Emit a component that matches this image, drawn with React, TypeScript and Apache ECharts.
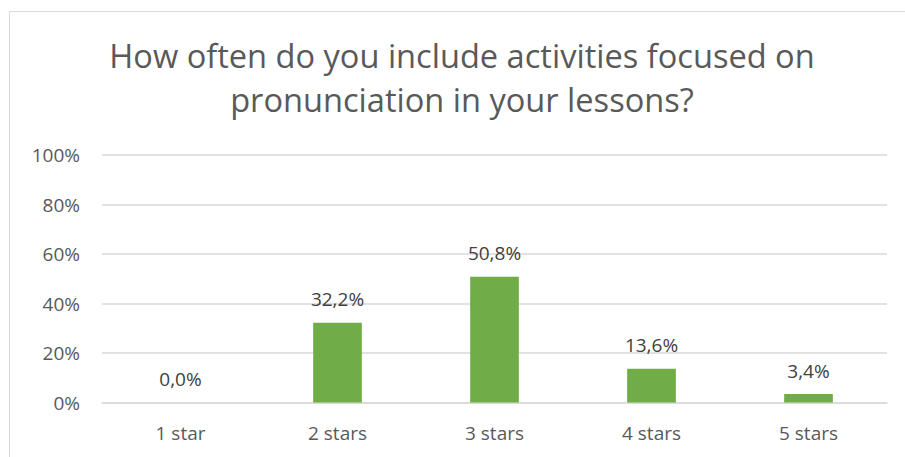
import React, { useEffect, useRef } from "react";
import * as echarts from "echarts";

const categories = ["1 star", "2 stars", "3 stars", "4 stars", "5 stars"];
const values = [0.0, 32.2, 50.8, 13.6, 3.4];
const yTicks = [0, 20, 40, 60, 80, 100];
const titleLines = ["How often do you include activities focused on", "pronunciation in your lessons?"];

const FONT = "'Open Sans', sans-serif";
const GREY = "#595959";

export default function App() {
  const ref = useRef<HTMLDivElement>(null);
  useEffect(() => {
    document.body.style.margin = "0";
    const chart = echarts.init(ref.current!, null, { renderer: "svg" });
    chart.setOption({
      animation: false,
      backgroundColor: "#ffffff",
      graphic: [
        {
          type: "rect",
          shape: { x: 9.5, y: 11.5, width: 920, height: 460 },
          style: { fill: "none", stroke: "#d9d9d9", lineWidth: 1 },
          silent: true,
        },
        {
          type: "text",
          x: 462,
          y: 33,
          style: {
            text: titleLines.join("\n"),
            fontFamily: FONT,
            fontSize: 32.6,
            lineHeight: 44,
            fill: GREY,
            align: "center",
          },
        },
      ],
      grid: { left: 102, right: 18, top: 155, bottom: 54.5, containLabel: false },
      xAxis: {
        type: "category",
        data: categories,
        axisLine: { show: true, lineStyle: { color: "#d9d9d9", width: 1.5 } },
        axisTick: { show: false },
        axisLabel: { color: GREY, fontFamily: FONT, fontSize: 19, margin: 21 },
      },
      yAxis: {
        type: "value",
        min: 0,
        max: 100,
        interval: 20,
        axisLine: { show: false },
        axisTick: { show: false },
        splitLine: { lineStyle: { color: "#d9d9d9", width: 1.5 } },
        axisLabel: {
          color: GREY,
          fontFamily: FONT,
          fontSize: 19,
          margin: 22,
          formatter: (v: number) => (yTicks.includes(v) ? v + "%" : ""),
        },
      },
      series: [
        {
          type: "bar",
          data: values,
          barWidth: "31%",
          itemStyle: { color: "#70ad47" },
          label: {
            show: true,
            position: "top",
            distance: 14,
            color: "#404040",
            fontFamily: FONT,
            fontSize: 19,
            formatter: (p: any) => p.value.toFixed(1).replace(".", ",") + "%",
          },
        },
      ],
    });
    return () => chart.dispose();
  }, []);
  return <div ref={ref} style={{ width: 905, height: 457 }} />;
}
